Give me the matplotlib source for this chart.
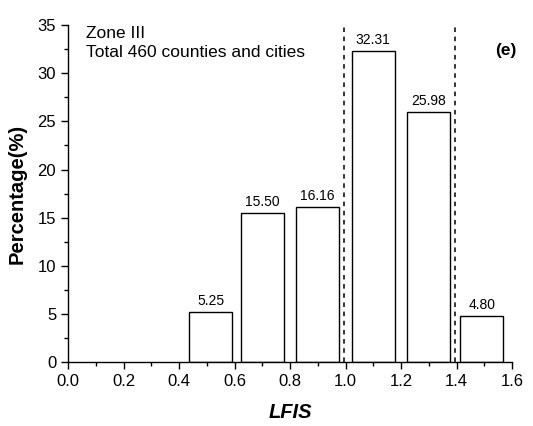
import matplotlib
matplotlib.use("Agg")
import matplotlib.pyplot as plt
from matplotlib.ticker import MultipleLocator

plt.rcParams['font.family'] = ['Liberation Sans', 'DejaVu Sans']

bar_left = [0.436, 0.622, 0.822, 1.022, 1.223, 1.414]
bar_width = 0.155
values = [5.25, 15.50, 16.16, 32.31, 25.98, 4.80]
labels = ["5.25", "15.50", "16.16", "32.31", "25.98", "4.80"]
thresholds = [0.996, 1.395]

fig = plt.figure(figsize=(5.33, 4.26), dpi=100)
ax = fig.add_axes([0.1276, 0.150, 0.8330, 0.791])

ax.bar(bar_left, values, width=bar_width, align='edge', facecolor='white',
       edgecolor='black', linewidth=1.0, zorder=2)
for l, v, t in zip(bar_left, values, labels):
    ax.text(l + bar_width / 2, v + 0.4, t, ha='center', va='bottom', fontsize=10)

for th in thresholds:
    ax.axvline(th, color='black', linestyle=(0, (3, 3)), linewidth=1.1, zorder=1)

ax.set_xlim(0, 1.6)
ax.set_ylim(0, 35)
ax.xaxis.set_major_locator(MultipleLocator(0.2))
ax.xaxis.set_minor_locator(MultipleLocator(0.1))
ax.yaxis.set_major_locator(MultipleLocator(5))
ax.yaxis.set_minor_locator(MultipleLocator(2.5))
ax.set_xticklabels([f"{x:.1f}" for x in ax.get_xticks()])
ax.tick_params(axis='both', which='major', direction='out', length=5, width=1, labelsize=12)
ax.tick_params(axis='both', which='minor', direction='out', length=3, width=1)
ax.spines['top'].set_visible(False)
ax.spines['right'].set_visible(False)
for s in ['left', 'bottom']:
    ax.spines[s].set_linewidth(1.0)

ax.set_xlabel("LFIS", fontsize=14.5, fontweight='bold', fontstyle='italic', labelpad=10)
ax.set_ylabel("Percentage(%)", fontsize=14.5, fontweight='bold', labelpad=8)

ax.text(0.04, 0.997, "Zone III", transform=ax.transAxes, fontsize=12.5, va='top', ha='left')
ax.text(0.04, 0.942, "Total 460 counties and cities", transform=ax.transAxes, fontsize=12.5, va='top', ha='left')
ax.text(1.01, 0.947, "(e)", transform=ax.transAxes, fontsize=12.5, fontweight='bold', va='top', ha='right')

fig.savefig("out.png", dpi=100)
